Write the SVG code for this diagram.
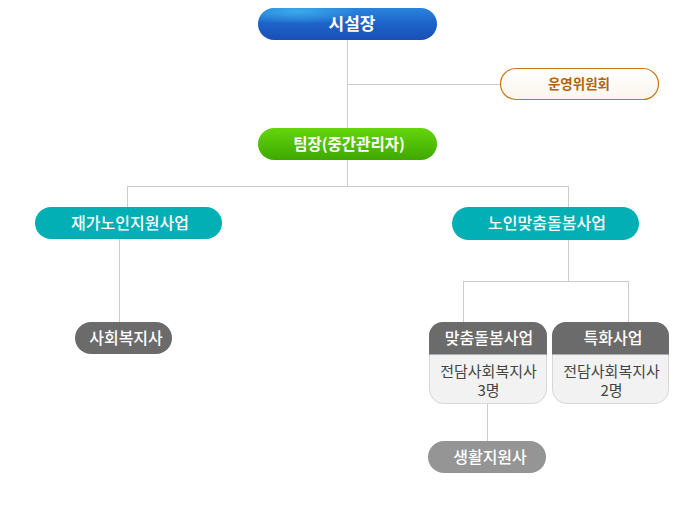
<svg xmlns="http://www.w3.org/2000/svg" width="693" height="520" viewBox="0 0 693 520">
<defs>
<linearGradient id="gBlue" x1="0" y1="0" x2="0" y2="1">
<stop offset="0" stop-color="#2a84dc"/>
<stop offset="0.5" stop-color="#1d62c8"/>
<stop offset="1" stop-color="#1a4fb6"/>
</linearGradient>
<radialGradient id="gBlueHi" cx="0.22" cy="0.15" r="0.35" fx="0.22" fy="0.1">
<stop offset="0" stop-color="#3cb0ec" stop-opacity="0.9"/>
<stop offset="1" stop-color="#3cb0ec" stop-opacity="0"/>
</radialGradient>
<linearGradient id="gGreen" x1="0" y1="0" x2="0" y2="1">
<stop offset="0" stop-color="#64d60c"/>
<stop offset="1" stop-color="#3fa800"/>
</linearGradient>
<linearGradient id="gWhite" x1="0" y1="0" x2="0" y2="1">
<stop offset="0" stop-color="#ffffff"/>
<stop offset="1" stop-color="#fbf5ec"/>
</linearGradient>
</defs>
<style>
text{font-family:"Noto Sans CJK KR","Noto Sans",sans-serif;text-anchor:middle}
.t{font-size:16px;fill:#ffffff;font-weight:500}
.body{font-size:15px;fill:#444444}
.teal{fill:#02afb4}
.dark{fill:#6b6b6b}
.conn{fill:none;stroke:#cccccc;stroke-width:1}
</style>
<rect width="693" height="520" fill="#ffffff"/>
<g id="connectors" class="conn">
<path d="M347.5,40 V128"/>
<path d="M347.5,84.5 H500"/>
<path d="M347.5,160 V186"/>
<path d="M127.5,186.5 H569"/>
<path d="M127.5,186 V207"/>
<path d="M568.5,186 V207"/>
<path d="M119.5,239 V322"/>
<path d="M568.5,240 V281"/>
<path d="M463.5,281.5 H628"/>
<path d="M463.5,281 V322"/>
<path d="M628.5,281 V322"/>
<path d="M487.5,404 V441"/>
</g>
<g id="n-director">
<rect x="258" y="8" width="179" height="32" rx="16" fill="url(#gBlue)"/>
<rect x="258" y="8" width="179" height="32" rx="16" fill="url(#gBlueHi)"/>
<text x="352" y="30.3" style="font-size:17px;font-weight:bold;fill:#ffffff">시설장</text>
</g>
<g id="n-committee">
<rect x="500.5" y="68.5" width="158" height="31" rx="15.5" fill="url(#gWhite)" stroke="#c8781a" stroke-width="1.2"/>
<text x="579" y="88.5" style="font-size:13.5px;font-weight:bold;fill:#b3630c">운영위원회</text>
</g>
<g id="n-leader">
<rect x="258" y="128" width="179" height="32" rx="16" fill="url(#gGreen)"/>
<text x="349" y="149.7" style="font-size:15.5px;font-weight:bold;fill:#ffffff">팀장(중간관리자)</text>
</g>
<g id="n-homecare">
<rect class="teal" x="35" y="207" width="187" height="32" rx="16"/>
<text class="t" x="130" y="229">재가노인지원사업</text>
</g>
<g id="n-custom">
<rect class="teal" x="452" y="207" width="187" height="33" rx="16.5"/>
<text class="t" x="547" y="229.4">노인맞춤돌봄사업</text>
</g>
<g id="n-socialworker">
<rect class="dark" x="75" y="322" width="97" height="32" rx="16"/>
<text class="t" x="126" y="344">사회복지사</text>
</g>
<g id="n-custom-care">
<rect x="429.5" y="322.5" width="117" height="81" rx="14" fill="#f2f2f2" stroke="#d6d6d6"/>
<path class="dark" d="M429,354.5 V336 A14,14 0 0 1 443,322 H533 A14,14 0 0 1 547,336 V354.5 Z"/>
<text class="t" x="489" y="344">맞춤돌봄사업</text>
<text class="body"><tspan x="488.5" y="377">전담사회복지사</tspan><tspan x="488.5" y="396">3명</tspan></text>
</g>
<g id="n-special">
<rect x="552.5" y="322.5" width="116" height="81" rx="14" fill="#f2f2f2" stroke="#d6d6d6"/>
<path class="dark" d="M552,354.5 V336 A14,14 0 0 1 566,322 H655 A14,14 0 0 1 669,336 V354.5 Z"/>
<text class="t" x="613" y="344">특화사업</text>
<text class="body"><tspan x="611.5" y="377">전담사회복지사</tspan><tspan x="611.5" y="396">2명</tspan></text>
</g>
<g id="n-lifesupport">
<rect x="428" y="441" width="118" height="32" rx="16" fill="#959595"/>
<text class="t" x="490" y="463">생활지원사</text>
</g>
</svg>
